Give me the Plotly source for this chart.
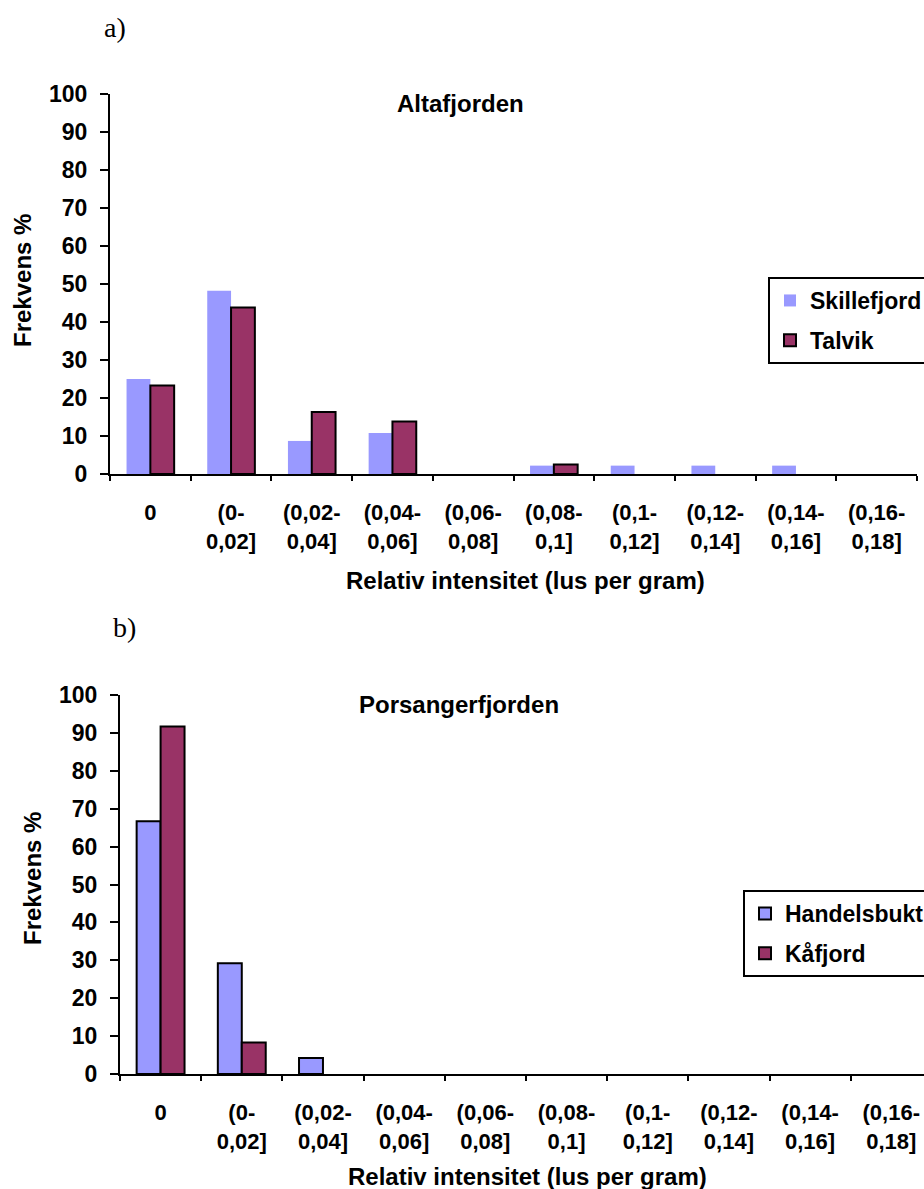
import plotly.graph_objects as go

# Intensity classes (lice per gram)
categories = ["0", "(0-<br>0,02]", "(0,02-<br>0,04]", "(0,04-<br>0,06]", "(0,06-<br>0,08]",
              "(0,08-<br>0,1]", "(0,1-<br>0,12]", "(0,12-<br>0,14]", "(0,14-<br>0,16]", "(0,16-<br>0,18]"]

# a) Altafjorden
skillefjord = [25.0, 48.2, 8.7, 10.8, 0, 2.2, 2.2, 2.2, 2.2, 0]
talvik = [23.3, 43.8, 16.3, 13.8, 0, 2.5, 0, 0, 0, 0]

# b) Porsangerfjorden
handelsbukt = [66.7, 29.2, 4.2, 0, 0, 0, 0, 0, 0, 0]
kaafjord = [91.7, 8.3, 0, 0, 0, 0, 0, 0, 0, 0]

W, H = 924, 1189
LIGHT = "#9999FF"
DARK = "#993366"
SANS = "Liberation Sans, Arial, sans-serif"
SERIF = "Liberation Serif, Times New Roman, serif"


def px_x(p):
    return p / W


def px_y(p):
    return 1 - p / H


def outline(values, width):
    # no outline on empty classes, so zero-height bars stay invisible
    return [width if v > 0 else 0 for v in values]


fig = go.Figure()

fig.add_trace(go.Bar(x=categories, y=skillefjord, name="Skillefjord",
                     marker=dict(color=LIGHT, line=dict(width=0)),
                     xaxis="x", yaxis="y", legend="legend", legendgroup="s"))
fig.add_trace(go.Bar(x=categories, y=talvik, name="Talvik",
                     marker=dict(color=DARK, line=dict(width=outline(talvik, 2), color="black")),
                     xaxis="x", yaxis="y", legend="legend", legendgroup="t"))
fig.add_trace(go.Bar(x=categories, y=handelsbukt, name="Handelsbukt",
                     marker=dict(color=LIGHT, line=dict(width=outline(handelsbukt, 2), color="black")),
                     xaxis="x2", yaxis="y2", legend="legend2", legendgroup="h"))
fig.add_trace(go.Bar(x=categories, y=kaafjord, name="Kåfjord",
                     marker=dict(color=DARK, line=dict(width=outline(kaafjord, 2), color="black")),
                     xaxis="x2", yaxis="y2", legend="legend2", legendgroup="k"))

xtick_font = dict(family=SANS, size=22, color="black", weight="bold")
ytick_font = dict(family=SANS, size=23, color="black", weight="bold")
xcommon = dict(type="category", tickson="boundaries", ticks="outside", ticklen=5,
               tickwidth=2, tickcolor="black", showline=True, linecolor="black",
               linewidth=2, showgrid=False, zeroline=False, tickfont=xtick_font,
               ticklabelstandoff=18, fixedrange=True)
ycommon = dict(range=[0, 100], dtick=10, ticks="outside", ticklen=8, tickwidth=2,
               tickcolor="black", showline=True, linecolor="black", linewidth=2,
               showgrid=False, zeroline=False, tickfont=ytick_font,
               ticklabelstandoff=8, fixedrange=True)

legend_common = dict(font=dict(family=SANS, size=23, color="black", weight="bold"),
                     bordercolor="black", borderwidth=2, bgcolor="white",
                     xanchor="left", yanchor="top", tracegroupgap=7,
                     traceorder="grouped", itemwidth=30)

fig.update_layout(
    width=W, height=H,
    margin=dict(l=0, r=0, t=0, b=0, autoexpand=False),
    paper_bgcolor="white", plot_bgcolor="white",
    barmode="group", bargap=0.41, bargroupgap=0,
    xaxis=dict(xcommon, domain=[px_x(110), px_x(917)], range=[-0.5, 9.5], anchor="y"),
    yaxis=dict(ycommon, domain=[px_y(474), px_y(94)], anchor="x"),
    xaxis2=dict(xcommon, domain=[px_x(120), 1.0], range=[-0.5, 9.403], anchor="y2"),
    yaxis2=dict(ycommon, domain=[px_y(1074), px_y(695)], anchor="x2"),
    legend=dict(legend_common, x=px_x(768), y=px_y(277)),
    legend2=dict(legend_common, x=px_x(743), y=px_y(890)),
    showlegend=True,
)

label_font = dict(family=SANS, size=24, color="black", weight="bold")
annotations = [
    dict(text="a)", x=px_x(115), y=px_y(27), font=dict(family=SERIF, size=28, color="black")),
    dict(text="b)", x=px_x(124), y=px_y(627), font=dict(family=SERIF, size=28, color="black")),
    dict(text="Altafjorden", x=px_x(460), y=px_y(103), font=label_font),
    dict(text="Porsangerfjorden", x=px_x(459), y=px_y(705), font=label_font),
    dict(text="Frekvens %", x=px_x(22), y=px_y(281), textangle=-90, font=label_font),
    dict(text="Frekvens %", x=px_x(32), y=px_y(879), textangle=-90, font=label_font),
    dict(text="Relativ intensitet (lus per gram)", x=px_x(525), y=px_y(580), font=label_font),
    dict(text="Relativ intensitet (lus per gram)", x=px_x(527), y=px_y(1176), font=label_font),
]
for a in annotations:
    a.update(xref="paper", yref="paper", xanchor="center", yanchor="middle", showarrow=False)
fig.update_layout(annotations=annotations)

fig.write_html("out.html")
